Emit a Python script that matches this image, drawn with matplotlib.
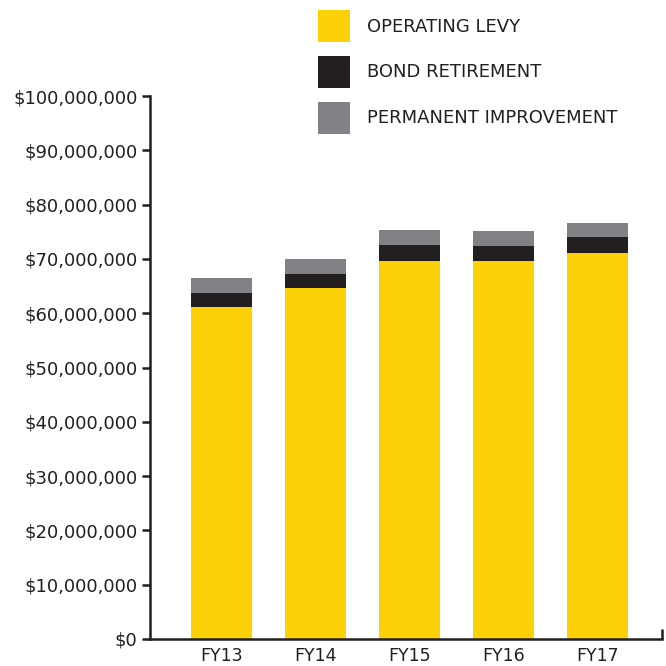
import matplotlib.pyplot as plt
from matplotlib.ticker import FuncFormatter

# Levy revenue by fiscal year, in millions of dollars
years = ['FY13', 'FY14', 'FY15', 'FY16', 'FY17']
operating_levy = [61.1, 64.6, 69.7, 69.6, 71.1]
bond_retirement = [2.7, 2.7, 2.9, 2.8, 2.9]
permanent_improvement = [2.7, 2.7, 2.8, 2.8, 2.7]

yellow = '#FDD108'
black = '#231F20'
grey = '#808285'
ink = '#231F20'

plt.rcParams['font.family'] = ['DejaVu Sans']

fig = plt.figure(figsize=(6.66, 6.66), dpi=100)
ax = fig.add_axes([150 / 666, 27 / 666, 512 / 666, 543 / 666])

x = range(len(years))
w = 0.65
b1 = ax.bar(x, operating_levy, w, color=yellow, label='OPERATING LEVY')
bottom2 = operating_levy
b2 = ax.bar(x, bond_retirement, w, bottom=bottom2, color=black, label='BOND RETIREMENT')
bottom3 = [a + b for a, b in zip(operating_levy, bond_retirement)]
b3 = ax.bar(x, permanent_improvement, w, bottom=bottom3, color=grey, label='PERMANENT IMPROVEMENT')

ax.set_xlim(-0.76, 4.69)
ax.set_ylim(0, 100)
ax.set_yticks(range(0, 101, 10))
ax.yaxis.set_major_formatter(FuncFormatter(lambda v, p: '${:,.0f}'.format(v * 1e6)))
ax.set_xticks(list(x))
ax.set_xticklabels(years)

for s in ['top', 'right']:
    ax.spines[s].set_visible(False)
for s in ['left', 'bottom']:
    ax.spines[s].set_linewidth(1.8)
    ax.spines[s].set_color(ink)
ax.tick_params(axis='y', direction='out', length=6, width=1.8, color=ink,
               labelsize=13, labelcolor=ink, pad=3)
ax.tick_params(axis='x', length=0, labelsize=12.5, labelcolor=ink, pad=6)

# small upturn at the end of the baseline
ax.plot([4.69, 4.69], [0, 1.8], color=ink, lw=1.8, clip_on=False, solid_capstyle='butt')

ax.legend(handles=[b1, b2, b3], loc='upper left',
          bbox_to_anchor=(318 / 666, 1 - 10 / 666), bbox_transform=fig.transFigure,
          frameon=False, fontsize=13, borderpad=0, borderaxespad=0,
          handlelength=1.77, handleheight=2.35, labelspacing=0.77,
          handletextpad=0.94, labelcolor=ink)

fig.savefig('out.png', dpi=100)
